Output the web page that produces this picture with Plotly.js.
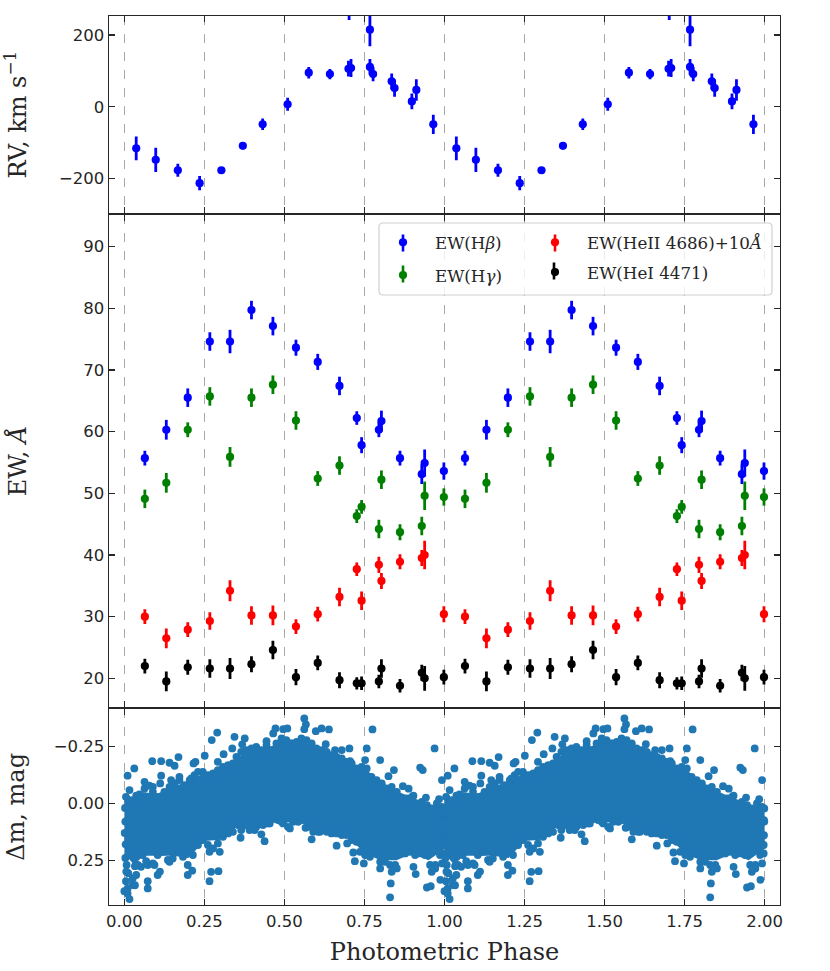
<!DOCTYPE html>
<html>
<head>
<meta charset="utf-8">
<script src="https://cdn.plot.ly/plotly-3.0.1.min.js"></script>
<style>
html, body { margin: 0; padding: 0; background: #fff; }
</style>
</head>
<body>
<div id="chart" style="width:830px;height:971px;"></div>
<script>
// Radial velocities, one phase cycle (drawn twice, 0-1 and 1-2)
var rvPhase = [0.037, 0.098, 0.167, 0.235, 0.303, 0.370, 0.432, 0.510, 0.576, 0.642, 0.700, 0.708, 0.702, 0.767, 0.767, 0.777, 0.835, 0.844, 0.898, 0.912, 0.965];
var rvValue = [-116, -148, -177, -213, -177, -109, -49, 7, 95, 91, 106, 108, 267, 215, 111, 91, 71, 52, 15, 47, -49];
var rvError = [33, 34, 18, 20, 8, 8, 16, 18, 16, 14, 22, 25, 25, 46, 22, 20, 22, 24, 22, 30, 27];

// Equivalent widths, one phase cycle
var ewPhase = [0.064, 0.131, 0.198, 0.267, 0.330, 0.397, 0.464, 0.536, 0.604, 0.672, 0.726, 0.741, 0.795, 0.803, 0.861, 0.929, 0.938, 0.998];
var hBeta = [55.7, 60.3, 65.5, 74.6, 74.6, 79.7, 77.1, 73.6, 71.3, 67.4, 62.2, 57.8, 60.3, 61.7, 55.7, 53.1, 54.9, 53.6];
var hBetaErr = [1.2, 1.6, 1.5, 1.5, 1.9, 1.5, 1.5, 1.3, 1.3, 1.5, 1.1, 1.3, 1.2, 1.7, 1.2, 1.6, 2.2, 1.4];
var hGamma = [49.1, 51.7, 60.3, 65.7, 55.9, 65.5, 67.6, 61.8, 52.4, 54.5, 46.3, 47.8, 44.2, 52.2, 43.7, 44.7, 49.6, 49.4];
var hGammaErr = [1.5, 1.6, 1.2, 1.5, 1.6, 1.5, 1.5, 1.5, 1.2, 1.5, 1.1, 1.1, 1.5, 1.5, 1.3, 1.5, 2.3, 1.4];
var heII = [30.0, 26.5, 27.9, 29.3, 34.2, 30.2, 30.2, 28.4, 30.4, 33.2, 37.7, 32.6, 38.4, 35.8, 38.9, 39.5, 40.0, 30.4];
var heIIErr = [1.2, 1.6, 1.2, 1.4, 1.7, 1.5, 1.6, 1.2, 1.2, 1.5, 1.1, 1.5, 1.3, 1.3, 1.2, 1.3, 2.3, 1.3];
var heI = [22.0, 19.5, 21.8, 21.6, 21.6, 22.3, 24.6, 20.2, 22.5, 19.7, 19.2, 19.2, 19.5, 21.6, 18.8, 20.9, 20.0, 20.2];
var heIErr = [1.2, 1.6, 1.2, 1.5, 1.7, 1.3, 1.5, 1.3, 1.2, 1.3, 1.0, 1.1, 1.1, 1.5, 1.1, 1.3, 2.0, 1.2];

// Photometry: the solid middle of the cloud, read as an upper and lower edge
var corePhase = [0.00, 0.03, 0.06, 0.10, 0.15, 0.20, 0.25, 0.30, 0.35, 0.40, 0.45, 0.50, 0.55, 0.60, 0.65, 0.70, 0.75, 0.80, 0.85, 0.90, 0.95, 1.00];
var coreUpper = [-0.02, -0.02, -0.05, -0.04, -0.075, -0.095, -0.135, -0.15, -0.20, -0.24, -0.245, -0.28, -0.28, -0.24, -0.21, -0.18, -0.155, -0.095, -0.055, -0.025, 0.005, 0.015];
var coreLower = [0.22, 0.27, 0.23, 0.23, 0.23, 0.24, 0.165, 0.16, 0.105, 0.105, 0.085, 0.085, 0.08, 0.125, 0.13, 0.145, 0.22, 0.25, 0.25, 0.22, 0.25, 0.20];

// Photometry: single points visible outside the solid part
var magPhase = [0.087, 0.115, 0.141, 0.169, 0.157, 0.031, 0.010, 0.992, 0.016, 0.063, 0.089, 0.115, 0.146, 0.172, 0.209, 0.222, 0.216, 0.251, 0.273, 0.290, 0.292, 0.310, 0.337, 0.344, 0.376, 0.368, 0.444, 0.465, 0.472, 0.496, 0.509, 0.562, 0.567, 0.562, 0.598, 0.616, 0.639, 0.629, 0.658, 0.679, 0.703, 0.705, 0.757, 0.752, 0.775, 0.799, 0.842, 0.825, 0.870, 0.888, 0.903, 0.942, 0.924, 0.932, 0.969, 0.983,
  0.016, 0.000, 0.026, 0.010, 0.073, 0.073, 0.104, 0.068, 0.094, 0.141, 0.198, 0.212, 0.266, 0.271, 0.294, 0.266, 0.298, 0.363, 0.365, 0.438, 0.428, 0.407, 0.454, 0.491, 0.517, 0.566, 0.585, 0.605, 0.663, 0.696, 0.715, 0.720, 0.748, 0.799, 0.830, 0.832, 0.835, 0.851, 0.903, 0.910, 0.945, 0.957, 0.960, 0.987, 0.992, 0.998, 0.971,
  0.037, 0.052, 0.005, 0.012, 0.007, 0.033, 0.033, 0.111,
  0.002, 0.003, 0.001, 0.004, 0.003, 0.006, 0.999, 0.998, 0.997];
var magValue = [-0.186, -0.186, -0.179, -0.204, -0.166, -0.154, -0.122, -0.103, -0.059, -0.095, -0.073, -0.122, -0.103, -0.117, -0.110, -0.183, -0.176, -0.210, -0.279, -0.312, -0.183, -0.217, -0.242, -0.293, -0.286, -0.260, -0.274, -0.308, -0.330, -0.327, -0.330, -0.374, -0.348, -0.327, -0.318, -0.330, -0.326, -0.261, -0.235, -0.235, -0.242, -0.186, -0.242, -0.191, -0.326, -0.191, -0.147, -0.120, -0.076, -0.065, -0.034, -0.026, -0.158, -0.147, -0.242, -0.019,
  0.421, 0.386, 0.359, 0.396, 0.374, 0.342, 0.315, 0.254, 0.271, 0.257, 0.315, 0.296, 0.342, 0.301, 0.298, 0.213, 0.213, 0.151, 0.117, 0.166, 0.136, 0.117, 0.088, 0.081, 0.110, 0.107, 0.158, 0.125, 0.186, 0.176, 0.216, 0.254, 0.264, 0.286, 0.413, 0.352, 0.301, 0.286, 0.279, 0.311, 0.370, 0.364, 0.301, 0.336, 0.264, 0.073, 0.286,
  0.315, 0.279, 0.342, 0.307, 0.271, 0.360, 0.276, 0.300,
  0.02, 0.08, 0.13, 0.18, 0.24, 0.30, 0.08, 0.14, 0.22];

// Photometry: points that make the scalloped outline of the solid part
var upperEdgePhase = [0.005, 0.021, 0.037, 0.047, 0.063, 0.078, 0.089, 0.101, 0.112, 0.125, 0.141, 0.157, 0.172, 0.188, 0.204, 0.219, 0.230, 0.245, 0.261, 0.277, 0.292, 0.308, 0.324, 0.339, 0.350, 0.365, 0.381, 0.397, 0.412, 0.428, 0.444, 0.459, 0.475, 0.491, 0.506, 0.522, 0.538, 0.553, 0.569, 0.585, 0.600, 0.616, 0.632, 0.647, 0.663, 0.679, 0.694, 0.710, 0.725, 0.741, 0.757, 0.772, 0.788, 0.804, 0.819, 0.835, 0.851, 0.866, 0.882, 0.898, 0.913, 0.929, 0.945, 0.960, 0.976, 0.992, 0.999];
var upperEdge = [-0.029, -0.015, -0.034, -0.040, -0.066, -0.078, -0.051, -0.029, -0.088, -0.051, -0.073, -0.088, -0.103, -0.081, -0.103, -0.125, -0.139, -0.139, -0.125, -0.132, -0.147, -0.161, -0.169, -0.176, -0.205, -0.227, -0.235, -0.242, -0.249, -0.235, -0.257, -0.235, -0.264, -0.286, -0.279, -0.264, -0.271, -0.286, -0.279, -0.264, -0.242, -0.235, -0.227, -0.213, -0.205, -0.198, -0.183, -0.176, -0.154, -0.161, -0.154, -0.117, -0.103, -0.088, -0.066, -0.073, -0.051, -0.022, -0.022, -0.029, 0.000, -0.007, 0.007, 0.022, 0.000, 0.015, 0.022];
var lowerEdgePhase = [0.010, 0.026, 0.042, 0.057, 0.073, 0.089, 0.104, 0.120, 0.136, 0.151, 0.167, 0.183, 0.198, 0.214, 0.230, 0.245, 0.261, 0.277, 0.292, 0.308, 0.324, 0.339, 0.355, 0.376, 0.391, 0.412, 0.433, 0.449, 0.465, 0.480, 0.496, 0.511, 0.527, 0.543, 0.558, 0.574, 0.590, 0.611, 0.632, 0.647, 0.663, 0.679, 0.694, 0.710, 0.725, 0.736, 0.752, 0.767, 0.783, 0.799, 0.814, 0.830, 0.846, 0.861, 0.877, 0.892, 0.908, 0.924, 0.939, 0.955, 0.971, 0.986, 0.997];
var lowerEdge = [0.374, 0.330, 0.271, 0.227, 0.271, 0.264, 0.227, 0.213, 0.249, 0.242, 0.205, 0.235, 0.271, 0.227, 0.183, 0.161, 0.183, 0.198, 0.176, 0.147, 0.132, 0.125, 0.095, 0.095, 0.117, 0.103, 0.095, 0.088, 0.066, 0.073, 0.088, 0.103, 0.081, 0.081, 0.073, 0.103, 0.125, 0.125, 0.125, 0.132, 0.132, 0.139, 0.139, 0.161, 0.169, 0.213, 0.227, 0.235, 0.213, 0.257, 0.257, 0.271, 0.271, 0.213, 0.220, 0.213, 0.227, 0.220, 0.227, 0.271, 0.271, 0.227, 0.183];

var tickVals = [0, 0.25, 0.5, 0.75, 1, 1.25, 1.5, 1.75, 2];
var serif = '"DejaVu Serif", serif';
var sans = '"DejaVu Sans", sans-serif';
var inkColor = '#262626';
var dotColor = '#1f77b4';

function twoPhases(p) {
    return p.concat(p.map(function (v) { return v + 1; }));
}
function twice(a) {
    return a.concat(a);
}
function ewTrace(y, err, color, name, legendId, group) {
    return {
        x: twoPhases(ewPhase), y: twice(y), xaxis: 'x2', yaxis: 'y2',
        type: 'scatter', mode: 'markers', name: name,
        marker: {color: color, size: 8.2},
        error_y: {type: 'data', array: twice(err), color: color, thickness: 2.8, width: 0},
        legend: legendId, legendgroup: group
    };
}
function magTrace(p, v) {
    return {x: twoPhases(p), y: twice(v), xaxis: 'x', yaxis: 'y', type: 'scatter', mode: 'markers',
        marker: {color: dotColor, size: 7.8}, showlegend: false};
}

var data = [
    {x: twoPhases(rvPhase), y: twice(rvValue), xaxis: 'x3', yaxis: 'y3', type: 'scatter', mode: 'markers',
     marker: {color: '#0000ff', size: 8.2}, showlegend: false,
     error_y: {type: 'data', array: twice(rvError), color: '#0000ff', thickness: 2.8, width: 0}},
    ewTrace(hBeta, hBetaErr, '#0000ff', 'EW(H<i>β</i>)', 'legend', 'a'),
    ewTrace(hGamma, hGammaErr, '#008000', 'EW(H<i>γ</i>)', 'legend', 'b'),
    ewTrace(heII, heIIErr, '#ff0000', 'EW(HeII 4686)+10<i>Å</i>', 'legend2', 'c'),
    ewTrace(heI, heIErr, '#000000', 'EW(HeI 4471)', 'legend2', 'd'),
    {x: twoPhases(corePhase), y: twice(coreUpper), xaxis: 'x', yaxis: 'y', type: 'scatter', mode: 'lines',
     line: {width: 0, color: dotColor}, showlegend: false},
    {x: twoPhases(corePhase), y: twice(coreLower), xaxis: 'x', yaxis: 'y', type: 'scatter', mode: 'lines',
     line: {width: 0, color: dotColor}, fill: 'tonexty', fillcolor: dotColor, showlegend: false},
    magTrace(upperEdgePhase, upperEdge),
    magTrace(lowerEdgePhase, lowerEdge),
    magTrace(magPhase, magValue)
];

function xAxis(anchor, labels) {
    return {
        domain: [109 / 830, 780 / 830], range: [-0.048, 2.048], anchor: anchor,
        tickmode: 'array', tickvals: tickVals, ticktext: tickVals.map(function (v) { return v.toFixed(2); }),
        ticks: 'inside', ticklen: 6, tickwidth: 1.2, tickcolor: inkColor,
        showticklabels: labels, tickfont: {family: sans, size: 16.5, color: inkColor},
        ticklabelstandoff: 1,
        showline: true, mirror: 'ticks', linecolor: inkColor, linewidth: 1.4,
        showgrid: true, gridcolor: '#a8a8a8', griddash: 'dash', gridwidth: 1,
        zeroline: false
    };
}
function yAxis(top, bottom, range, vals, text, title, standoff) {
    return {
        domain: [1 - bottom / 971, 1 - top / 971], range: range,
        tickmode: 'array', tickvals: vals, ticktext: text,
        ticks: 'inside', ticklen: 6, tickwidth: 1.2, tickcolor: inkColor,
        tickfont: {family: sans, size: 16.5, color: inkColor},
        showline: true, mirror: 'ticks', linecolor: inkColor, linewidth: 1.4,
        showgrid: false, zeroline: false,
        title: {text: title, font: {family: serif, size: 24, color: inkColor}, standoff: standoff}
    };
}

var xAxisBottom = xAxis('y', true);
xAxisBottom.title = {text: 'Photometric Phase', font: {family: serif, size: 24, color: inkColor}, standoff: 13};
var xAxisMiddle = xAxis('y2', false);
xAxisMiddle.matches = 'x';
var xAxisTop = xAxis('y3', false);
xAxisTop.matches = 'x';

// short vertical strokes through the legend markers, as an errorbar legend has
function legendBar(px, py, color) {
    return {type: 'line', xref: 'paper', yref: 'paper', layer: 'above',
        x0: px / 830, x1: px / 830, y0: 1 - (py - 8.5) / 971, y1: 1 - (py + 8.5) / 971,
        line: {color: color, width: 2.6}};
}
// rounded legend box, in page fractions
var bx0 = 379 / 830, bx1 = 772 / 830, by0 = 1 - 295 / 971, by1 = 1 - 223 / 971;
var rx = 4 / 830, ry = 4 / 971;
var legendBox = {
    type: 'path', xref: 'paper', yref: 'paper', layer: 'above',
    path: 'M ' + (bx0 + rx) + ' ' + by0 + ' L ' + (bx1 - rx) + ' ' + by0 + ' Q ' + bx1 + ' ' + by0 + ' ' + bx1 + ' ' + (by0 + ry) +
        ' L ' + bx1 + ' ' + (by1 - ry) + ' Q ' + bx1 + ' ' + by1 + ' ' + (bx1 - rx) + ' ' + by1 +
        ' L ' + (bx0 + rx) + ' ' + by1 + ' Q ' + bx0 + ' ' + by1 + ' ' + bx0 + ' ' + (by1 - ry) +
        ' L ' + bx0 + ' ' + (by0 + ry) + ' Q ' + bx0 + ' ' + by0 + ' ' + (bx0 + rx) + ' ' + by0 + ' Z',
    fillcolor: 'rgba(255,255,255,0.8)', line: {color: '#d0d0d0', width: 1.2}
};

var legendFont = {family: serif, size: 16.7, color: inkColor};
var layout = {
    width: 830, height: 971,
    margin: {l: 0, r: 0, t: 0, b: 0},
    paper_bgcolor: '#fff', plot_bgcolor: '#fff',
    xaxis: xAxisBottom, xaxis2: xAxisMiddle, xaxis3: xAxisTop,
    yaxis: yAxis(708.7, 905, [0.447, -0.417], [-0.25, 0, 0.25], ['−0.25', '0.00', '0.25'], 'Δm, mag', 22),
    yaxis2: yAxis(214.7, 707.3, [15.31, 95.16], [20, 30, 40, 50, 60, 70, 80, 90], ['20', '30', '40', '50', '60', '70', '80', '90'], 'EW, <i>Å</i>', 50),
    yaxis3: yAxis(16, 213.3, [-297, 253], [-200, 0, 200], ['−200', '0', '200'], 'RV, km s<sup>−1</sup>', 29),
    legend: {x: 371 / 830, y: 1 - 225 / 971, xanchor: 'left', yanchor: 'top', bgcolor: 'rgba(0,0,0,0)', borderwidth: 0,
        font: legendFont, itemwidth: 54, tracegroupgap: 8},
    legend2: {x: 523 / 830, y: 1 - 225 / 971, xanchor: 'left', yanchor: 'top', bgcolor: 'rgba(0,0,0,0)', borderwidth: 0,
        font: legendFont, itemwidth: 54, tracegroupgap: 5},
    shapes: [legendBox,
        legendBar(403, 243, '#0000ff'), legendBar(403, 274, '#008000'),
        legendBar(555, 243, '#ff0000'), legendBar(554, 271, '#000000')],
    showlegend: true
};

Plotly.newPlot('chart', data, layout, {displayModeBar: false, staticPlot: true});
</script>
</body>
</html>
